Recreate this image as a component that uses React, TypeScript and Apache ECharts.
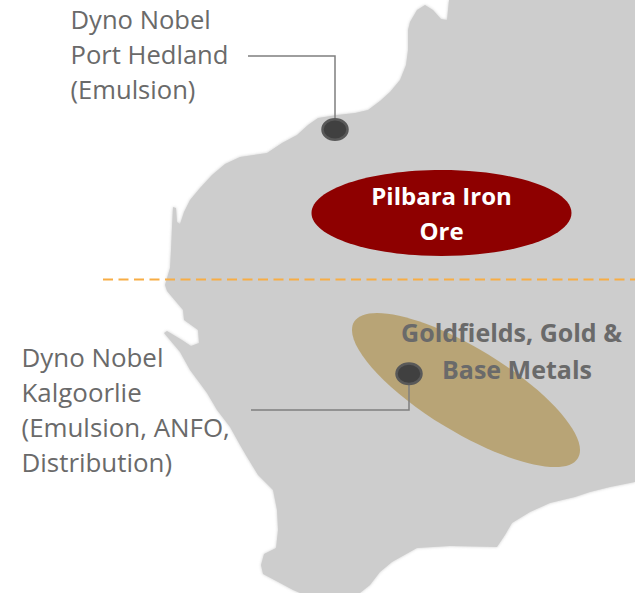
import React, { useEffect, useRef } from "react";
import * as echarts from "echarts";

const portHedlandLabel = "Dyno Nobel\nPort Hedland\n(Emulsion)";
const kalgoorlieLabel = "Dyno Nobel\nKalgoorlie\n(Emulsion, ANFO,\nDistribution)";
const pilbaraLabel = "Pilbara Iron\nOre";
const goldfieldsLine1 = "Goldfields, Gold &";
const goldfieldsLine2 = "Base Metals";

const coast: number[][] = [
  [635, 0], [449, 0], [447, 20], [441, 19], [433, 10], [425, 5], [417, 10], [410, 22], [408, 30], [408, 50], [406, 65], [400, 80],
  [390, 92], [380, 101], [368, 110], [355, 113], [337, 115], [318, 118], [308, 125], [297, 135], [282, 143], [267, 153],
  [240, 157], [225, 164], [212, 175], [200, 188], [190, 200], [184, 212], [180, 224], [177, 222], [176, 208], [173, 207],
  [172, 227], [171, 250], [170, 268], [165, 285], [167, 291], [172, 297], [183, 310], [184, 320], [198, 330], [199, 343],
  [191, 346], [182, 340], [167, 331], [164, 333], [180, 352], [190, 370], [207, 393], [217, 410], [230, 427], [240, 445],
  [247, 457], [258, 475], [273, 490], [277, 510], [278, 530], [276, 548], [264, 554], [261, 565], [263, 574], [280, 583],
  [293, 590], [300, 593], [360, 593], [370, 585], [380, 572], [392, 562], [417, 548], [450, 546], [497, 547], [505, 535],
  [512, 523], [530, 512], [550, 503], [575, 497], [590, 492], [610, 487], [635, 482],
];

const deg = Math.PI / 180;
const greyText = "#6a6a6a";
const font = "'Open Sans'";

export default function App() {
  const ref = useRef<HTMLDivElement>(null);
  useEffect(() => {
    document.body.style.margin = "0";
    document.body.style.overflow = "hidden";
    const chart = echarts.init(ref.current!, undefined, { renderer: "svg" });
    const label = (x: number, y: number, text: string, fill: string, weight: string, align: string, fontSize: number) => ({
      type: "text", x, y,
      style: { text, fill, fontFamily: font, fontSize, fontWeight: weight, lineHeight: 34.8, align, verticalAlign: "top" },
    });
    const leader = (points: number[][]) => ({
      type: "polyline",
      shape: { points },
      style: { stroke: "#7f7f7f", lineWidth: 1.5, fill: "none" },
    });
    const plant = (cx: number, cy: number) => ({
      type: "ellipse",
      shape: { cx, cy, rx: 12.5, ry: 10.2 },
      style: { fill: "#404040", stroke: "#595959", lineWidth: 2.5 },
    });
    chart.setOption({
      animation: false,
      backgroundColor: "#ffffff",
      graphic: {
        elements: [
          { type: "polygon", shape: { points: coast }, style: { fill: "#cdcdcd", shadowBlur: 3, shadowColor: "#cdcdcd" } },
          { type: "rect", shape: { x: 635, y: 0, width: 4, height: 593 }, style: { fill: "#ffffff" } },
          { type: "line", shape: { x1: 103, y1: 279.5, x2: 635, y2: 279.5 }, style: { stroke: "#f8ad45", lineWidth: 2.2, lineDash: [10, 5.5] } },
          { type: "ellipse", shape: { cx: 441.5, cy: 213, rx: 130, ry: 43 }, style: { fill: "#8e0000" } },
          { type: "ellipse", x: 466, y: 390, rotation: -31.4 * deg, shape: { cx: 0, cy: 0, rx: 131, ry: 42 }, style: { fill: "#b8a476" } },
          leader([[248, 56], [335, 56], [335, 120]]),
          leader([[251, 410], [409, 410], [409, 384]]),
          plant(335, 129.5),
          plant(409, 373.8),
          label(70.5, 2.5, portHedlandLabel, greyText, "normal", "left", 25.6),
          label(21.5, 340, kalgoorlieLabel, greyText, "normal", "left", 25.9),
          label(441.5, 178, pilbaraLabel, "#ffffff", "bold", "center", 24),
          label(511.5, 315, goldfieldsLine1, greyText, "bold", "center", 25),
          label(517, 352, goldfieldsLine2, greyText, "bold", "center", 25),
        ],
      },
    });
    return () => chart.dispose();
  }, []);
  return <div ref={ref} style={{ width: 639, height: 593 }} />;
}
